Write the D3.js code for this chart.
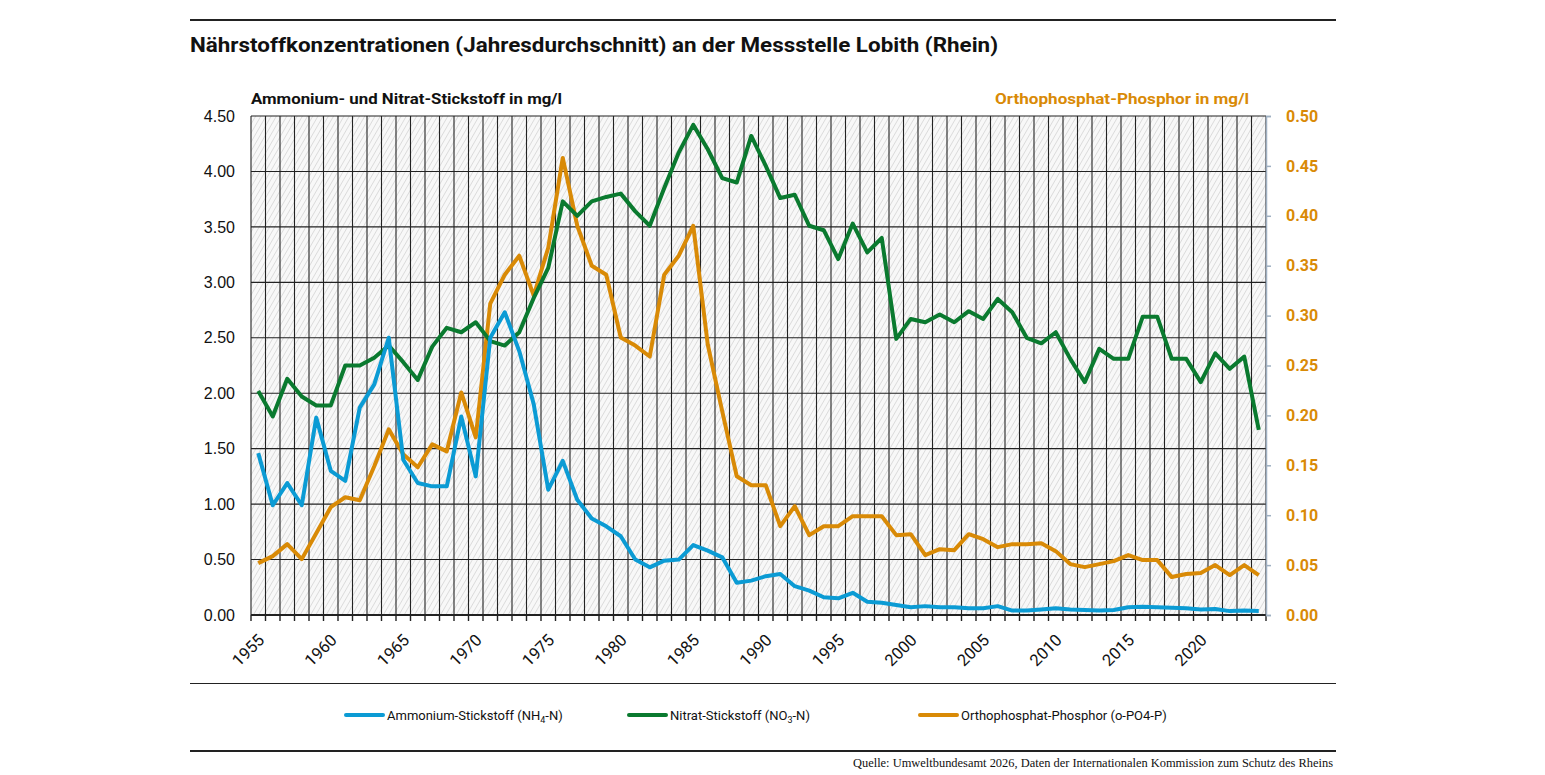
<!DOCTYPE html>
<html><head><meta charset="utf-8">
<script src="https://cdn.jsdelivr.net/npm/d3@7"></script>
<style>
body{margin:0;background:#fff;}
svg text{font-family:"Roboto","Open Sans",sans-serif;}
</style></head>
<body>
<svg id="c" width="1545" height="775"></svg>
<script>
const years = d3.range(1955, 2025);
const labelYears = [1955,1960,1965,1970,1975,1980,1985,1990,1995,2000,2005,2010,2015,2020];
const leftTicks = [0,0.5,1,1.5,2,2.5,3,3.5,4,4.5];
const rightTicks = [0,0.05,0.1,0.15,0.2,0.25,0.3,0.35,0.4,0.45,0.5];

const ammonium = [1.46,0.99,1.19,0.99,1.78,1.30,1.21,1.87,2.08,2.50,
  1.40,1.19,1.16,1.16,1.79,1.25,2.50,2.73,2.38,1.90,
  1.13,1.39,1.04,0.87,0.80,0.71,0.50,0.43,0.49,0.50,
  0.63,0.58,0.52,0.29,0.31,0.35,0.37,0.26,0.22,0.16,
  0.15,0.20,0.12,0.11,0.09,0.07,0.08,0.07,0.07,0.06,
  0.06,0.08,0.04,0.04,0.05,0.06,0.05,0.045,0.04,0.045,
  0.07,0.075,0.07,0.065,0.06,0.05,0.055,0.035,0.04,0.035];
const nitrat = [2.02,1.79,2.13,1.97,1.89,1.89,2.25,2.25,2.32,2.43,
  2.28,2.12,2.42,2.59,2.55,2.64,2.47,2.43,2.55,2.86,
  3.13,3.73,3.60,3.73,3.77,3.80,3.64,3.51,3.85,4.17,
  4.42,4.20,3.94,3.90,4.32,4.05,3.76,3.79,3.51,3.47,
  3.21,3.53,3.27,3.40,2.49,2.67,2.64,2.71,2.64,2.74,
  2.67,2.85,2.73,2.50,2.45,2.55,2.31,2.10,2.40,2.31,
  2.31,2.69,2.69,2.31,2.31,2.10,2.36,2.22,2.33,1.67];
const phosphat = [0.052,0.059,0.071,0.056,0.082,0.108,0.118,0.115,0.149,0.186,
  0.161,0.148,0.171,0.164,0.223,0.178,0.312,0.341,0.360,0.320,
  0.368,0.458,0.390,0.350,0.341,0.278,0.270,0.259,0.341,0.360,
  0.390,0.271,0.204,0.139,0.130,0.130,0.089,0.109,0.080,0.089,
  0.089,0.099,0.099,0.099,0.080,0.081,0.060,0.066,0.065,0.081,
  0.076,0.068,0.071,0.071,0.072,0.064,0.051,0.048,0.051,0.054,
  0.060,0.055,0.055,0.038,0.041,0.042,0.050,0.040,0.050,0.040];

const cBlue = "#0b9bd4", cGreen = "#0a7a2f", cOrange = "#d98a06";

const svg = d3.select("#c");
const L = 251, R = 1266, T = 116, B = 615;

const x = d3.scaleBand().domain(years).range([L, R]).paddingInner(0).paddingOuter(0);
const yL = d3.scaleLinear().domain([0, 4.5]).range([B, T]);
const yR = d3.scaleLinear().domain([0, 0.5]).range([B, T]);

// hatch pattern
const defs = svg.append("defs");
const pat = defs.append("pattern").attr("id","hatch").attr("patternUnits","userSpaceOnUse")
  .attr("width",4.5).attr("height",4.5).attr("patternTransform","rotate(30)");
pat.append("rect").attr("width",4.5).attr("height",4.5).attr("fill","#f8f8f8");
pat.append("line").attr("x1",0).attr("y1",0).attr("x2",0).attr("y2",4.5)
  .attr("stroke","#cdcdcd").attr("stroke-width",1.2);

svg.append("rect").attr("x",L).attr("y",T).attr("width",R-L).attr("height",B-T).attr("fill","url(#hatch)");

// horizontal grid
svg.append("g").selectAll("line").data(leftTicks).join("line")
  .attr("x1",L).attr("x2",R).attr("y1",d=>yL(d)).attr("y2",d=>yL(d))
  .attr("stroke","#222").attr("stroke-width",1.1);

// vertical grid at category boundaries
const bounds = years.map(d=>x(d)).concat([R]);
svg.append("g").selectAll("line").data(bounds).join("line")
  .attr("x1",d=>d).attr("x2",d=>d).attr("y1",T).attr("y2",B)
  .attr("stroke","#222").attr("stroke-width",1.1);

// bottom axis
svg.append("line").attr("x1",L).attr("x2",R).attr("y1",B).attr("y2",B).attr("stroke","#222").attr("stroke-width",2.2);
svg.append("g").selectAll("line").data(bounds).join("line")
  .attr("x1",d=>d).attr("x2",d=>d).attr("y1",B).attr("y2",B+6).attr("stroke","#222").attr("stroke-width",1.4);
svg.append("g").selectAll("text").data(labelYears).join("text")
  .attr("transform",d=>`translate(${x(d)+x.bandwidth()/2+4},${B+23}) rotate(-45)`)
  .attr("text-anchor","end").attr("dominant-baseline","middle")
  .attr("font-size",16.5).attr("fill","#111").text(d=>d);

// left axis labels
const gl = svg.append("g").attr("transform",`translate(${L},0)`)
  .call(d3.axisLeft(yL).tickValues(leftTicks).tickSize(0).tickPadding(16).tickFormat(d3.format(".2f")));
gl.select(".domain").remove();
gl.selectAll("text").attr("font-size",16).attr("fill","#111").style("font-family","inherit");

// right axis
const gr = svg.append("g").attr("transform",`translate(${R},0)`)
  .call(d3.axisRight(yR).tickValues(rightTicks).tickSize(5).tickPadding(15).tickFormat(d3.format(".2f")));
gr.select(".domain").attr("stroke","#9fb0c2").attr("stroke-width",1.5);
gr.selectAll(".tick line").attr("stroke","#9fb0c2").attr("stroke-width",1.5);
gr.selectAll("text").attr("font-size",16).attr("font-weight","bold").attr("fill",cOrange);

// lines
const lineL = d3.line().x((d,i)=>x(years[i])+x.bandwidth()/2).y(d=>yL(d));
const lineR = d3.line().x((d,i)=>x(years[i])+x.bandwidth()/2).y(d=>yR(d));
svg.append("path").datum(phosphat).attr("d",lineR).attr("fill","none").attr("stroke",cOrange).attr("stroke-width",4).attr("stroke-linejoin","round");
svg.append("path").datum(nitrat).attr("d",lineL).attr("fill","none").attr("stroke",cGreen).attr("stroke-width",4).attr("stroke-linejoin","round");
svg.append("path").datum(ammonium).attr("d",lineL).attr("fill","none").attr("stroke",cBlue).attr("stroke-width",4).attr("stroke-linejoin","round");

// rules
svg.append("line").attr("x1",190).attr("x2",1336).attr("y1",20).attr("y2",20).attr("stroke","#222").attr("stroke-width",2);
svg.append("line").attr("x1",190).attr("x2",1336).attr("y1",683.5).attr("y2",683.5).attr("stroke","#222").attr("stroke-width",1.2);
svg.append("line").attr("x1",190).attr("x2",1336).attr("y1",751).attr("y2",751).attr("stroke","#222").attr("stroke-width",2);

// titles
svg.append("text").attr("x",190).attr("y",52).attr("font-size",21).attr("font-weight","bold").attr("fill","#111")
  .attr("textLength",808).attr("lengthAdjust","spacingAndGlyphs")
  .text("Nährstoffkonzentrationen (Jahresdurchschnitt) an der Messstelle Lobith (Rhein)");
svg.append("text").attr("x",251).attr("y",104).attr("font-size",15.5).attr("font-weight","bold").attr("fill","#111")
  .attr("textLength",311).attr("lengthAdjust","spacingAndGlyphs")
  .text("Ammonium- und Nitrat-Stickstoff in mg/l");
svg.append("text").attr("x",995).attr("y",104).attr("font-size",15.5).attr("font-weight","bold").attr("fill",cOrange)
  .attr("textLength",254).attr("lengthAdjust","spacingAndGlyphs")
  .text("Orthophosphat-Phosphor in mg/l");

// legend
const legend = [
  {name:"Ammonium-Stickstoff (NH", sub:"4", tail:"-N)", color:cBlue, x:346},
  {name:"Nitrat-Stickstoff (NO", sub:"3", tail:"-N)", color:cGreen, x:629},
  {name:"Orthophosphat-Phosphor (o-PO4-P)", sub:"", tail:"", color:cOrange, x:920}
];
const lg = svg.append("g").selectAll("g").data(legend).join("g").attr("transform",d=>`translate(${d.x},715)`);
lg.append("line").attr("x1",0).attr("x2",37).attr("stroke",d=>d.color).attr("stroke-width",4).attr("stroke-linecap","round");
const lt = lg.append("text").attr("x",41).attr("y",5).attr("font-size",13).attr("fill","#111");
lt.append("tspan").text(d=>d.name);
lt.append("tspan").attr("font-size",9).attr("dy",3).text(d=>d.sub);
lt.append("tspan").attr("dy",d=>d.sub? -3:0).text(d=>d.tail);

// source
svg.append("text").attr("x",1333).attr("y",767).attr("text-anchor","end").attr("font-size",11.5)
  .style("font-family","'Liberation Serif','DejaVu Serif',serif").attr("fill","#111")
  .attr("textLength",480).attr("lengthAdjust","spacingAndGlyphs")
  .text("Quelle: Umweltbundesamt 2026, Daten der Internationalen Kommission zum Schutz des Rheins");
</script>
</body></html>
